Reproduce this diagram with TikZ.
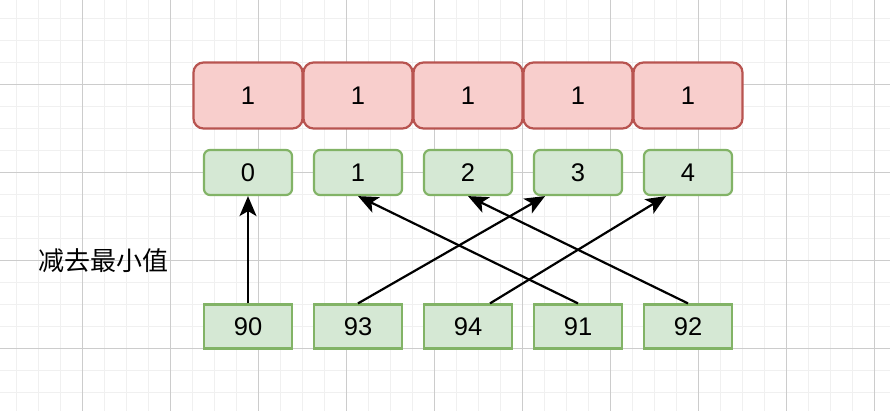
\documentclass[tikz,border=0pt]{standalone}
\usepackage{fontspec}
\setmainfont{Liberation Sans}
\newfontfamily\cjk{Noto Sans CJK SC}
\usetikzlibrary{arrows.meta}
\definecolor{cntline}{HTML}{B85450}
\definecolor{cntfill}{HTML}{F8CECC}
\definecolor{grnline}{HTML}{82B366}
\definecolor{grnfill}{HTML}{D5E8D4}
\begin{document}
\begin{tikzpicture}[x=1pt,y=-1pt,>={Stealth[length=20pt,width=17pt,inset=5pt]},
  every node/.style={font=\fontsize{25.5}{30}\selectfont,inner sep=0pt},
  cnt/.style={rectangle,rounded corners=10pt,draw=cntline,fill=cntfill,line width=2.2pt,minimum width=109pt,minimum height=66pt},
  idx/.style={rectangle,rounded corners=6pt,draw=grnline,fill=grnfill,line width=2.2pt,minimum width=88pt,minimum height=45pt},
  val/.style={rectangle,draw=grnline,fill=grnfill,line width=2.2pt,minimum width=88pt,minimum height=44pt},
  arr/.style={->,line width=2.2pt}]
\useasboundingbox (0,0) rectangle (890,411);
\fill[white] (0,0) rectangle (890,411);
% grid
\foreach \i in {-4,...,37}{
  \draw[black!6,line width=1.5pt] (82.7+22*\i,0) -- (82.7+22*\i,411);}
\foreach \i in {-4,...,15}{
  \draw[black!6,line width=1.5pt] (0,84.3+22*\i) -- (890,84.3+22*\i);}
\foreach \i in {-1,...,9}{
  \draw[black!20,line width=1pt] (82.7+88*\i,0) -- (82.7+88*\i,411);}
\foreach \i in {-1,...,3}{
  \draw[black!20,line width=1pt] (0,84.3+88*\i) -- (890,84.3+88*\i);}

% counts
\node (r1) at (248,95.5)[cnt]{1};
\node (r2) at (358,95.5)[cnt]{1};
\node (r3) at (468,95.5)[cnt]{1};
\node (r4) at (578,95.5)[cnt]{1};
\node (r5) at (688,95.5)[cnt]{1};
% indices
\node (m0) at (248,172.5)[idx]{0};
\node (m1) at (358,172.5)[idx]{1};
\node (m2) at (468,172.5)[idx]{2};
\node (m3) at (578,172.5)[idx]{3};
\node (m4) at (688,172.5)[idx]{4};
% values
\node (v90) at (248,326.5)[val]{90};
\node (v93) at (358,326.5)[val]{93};
\node (v94) at (468,326.5)[val]{94};
\node (v91) at (578,326.5)[val]{91};
\node (v92) at (688,326.5)[val]{92};
\node (lbl) at (103,261)[font=\cjk\fontsize{26}{30}\selectfont]{减去最小值};

\draw[arr] (v90.north) -- (m0.south);
\draw[arr] (v93.north) -- ([xshift=-33pt]m3.south);
\draw[arr] ([xshift=22pt]v94.north) -- ([xshift=-22pt]m4.south);
\draw[arr] (v91.north) -- (m1.south);
\draw[arr] (v92.north) -- (m2.south);
\end{tikzpicture}
\end{document}
